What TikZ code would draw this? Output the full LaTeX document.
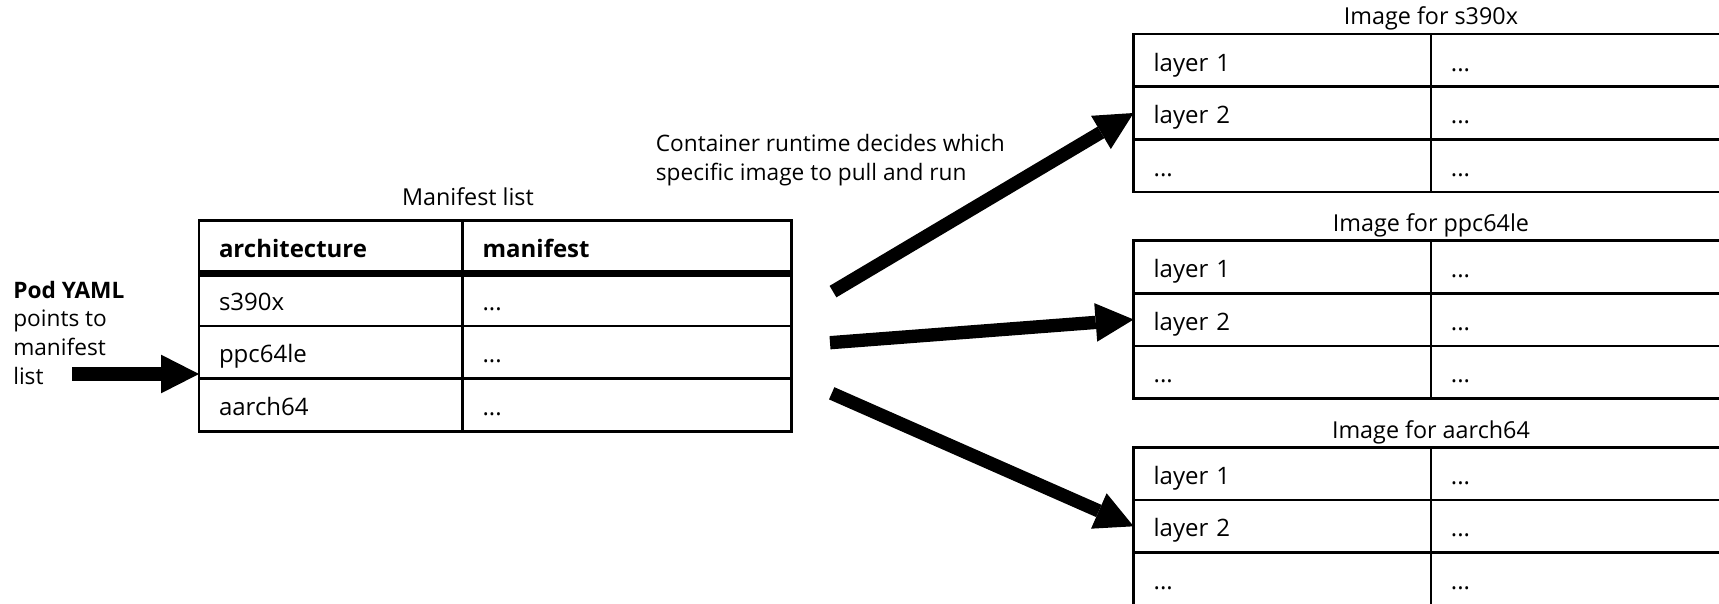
\documentclass[tikz,border=0pt]{standalone}
\usepackage{fontspec}
\setmainfont{Open Sans}
\usetikzlibrary{positioning,arrows.meta}

\tikzset{
  cell/.style={draw, line width=2pt, rectangle, anchor=north west, outer sep=0pt,
    inner xsep=15pt, inner ysep=0pt, minimum height=39.5pt,
    text width=#1, text height=20pt, text depth=4pt, align=left,
    font=\fontsize{18}{21}\selectfont},
  heading/.style={inner sep=0pt, font=\fontsize{17.5}{20}\selectfont},
  fat/.style={line width=10pt, -{Triangle[length=28.5pt, width=29pt, line width=0pt]}}
}

\begin{document}
\begin{tikzpicture}[x=0.75pt, y=-0.75pt]
  \useasboundingbox (0,0) rectangle (1719,603);

  % manifest list
  \node[cell=167.7pt, font=\fontsize{18}{21}\selectfont\bfseries] (arch) at (199,220.5) {architecture};
  \node[cell=216.7pt, font=\fontsize{18}{21}\selectfont\bfseries, right=0pt of arch] (mani) {manifest};
  \node[cell=167.7pt, below=0pt of arch] (ml-s390x) {s390x};
  \node[cell=216.7pt, right=0pt of ml-s390x] (ml-s390x-m) {...};
  \node[cell=167.7pt, below=0pt of ml-s390x] (ml-ppc) {ppc64le};
  \node[cell=216.7pt, right=0pt of ml-ppc] (ml-ppc-m) {...};
  \node[cell=167.7pt, below=0pt of ml-ppc] (ml-aarch) {aarch64};
  \node[cell=216.7pt, right=0pt of ml-aarch] (ml-aarch-m) {...};
  \draw[line width=5pt] (arch.south west) -- (mani.south east);
  \node[heading, above=11pt of arch.north east, xshift=4pt] (mltitle) {Manifest list};

  % one image per architecture
  \foreach \arch/\ytop in {s390x/34, ppc64le/240.5, aarch64/447.3}{
    \node[cell=193pt] (\arch-1a) at (1133.6,\ytop) {layer 1};
    \node[cell=195pt, right=0pt of \arch-1a] (\arch-1b) {...};
    \node[cell=193pt, below=0pt of \arch-1a] (\arch-2a) {layer 2};
    \node[cell=195pt, right=0pt of \arch-2a] (\arch-2b) {...};
    \node[cell=193pt, below=0pt of \arch-2a] (\arch-3a) {...};
    \node[cell=195pt, right=0pt of \arch-3a] (\arch-3b) {...};
    \node[heading, above=2.5pt of \arch-1a.north east] (\arch-title) {Image for \arch};
  }

  \node[align=left, anchor=west, inner sep=0pt, font=\fontsize{17}{21.4}\selectfont] (pod) at (13,332.7)
    {\textbf{Pod YAML}\\points to\\manifest\\list};
  \node[align=left, anchor=west, inner sep=0pt, font=\fontsize{17}{22}\selectfont] (runtime) at (655.6,160)
    {Container runtime decides which\\specific image to pull and run};

  \coordinate (podfoot) at (72,374);
  \draw[fat] (podfoot) -- (podfoot -| arch.west);
  \coordinate (fan1) at (833,291.6);
  \coordinate (fan2) at (830,342.7);
  \coordinate (fan3) at (831.7,393.3);
  \draw[fat] (fan1) -- (s390x-2a.west);
  \draw[fat] (fan2) -- (ppc64le-2a.west);
  \draw[fat] (fan3) -- (aarch64-2a.west);
\end{tikzpicture}
\end{document}
